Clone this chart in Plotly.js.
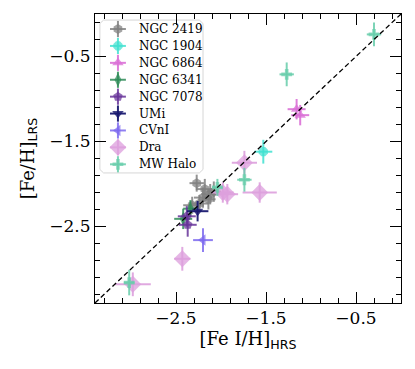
<!DOCTYPE html>
<html>
<head>
<meta charset="utf-8">
<script src="https://cdn.plot.ly/plotly-3.0.1.min.js"></script>
<style>
  html, body { margin: 0; padding: 0; background: #ffffff; }
  #chart { width: 415px; height: 369px; }
</style>
</head>
<body>
<div id="chart"></div>
<script>
//--------------------------------------- data - start -----------------------------------------------
var ngc2419_x = [-2.27, -2.18, -2.12, -2.08, -2.20, -2.24, -2.32, -2.14];
var ngc2419_y = [-1.99, -2.06, -2.12, -2.09, -2.16, -2.23, -2.25, -2.18];
var ngc2419_xe = [0.08, 0.10, 0.10, 0.08, 0.10, 0.10, 0.10, 0.08];
var ngc2419_ye = [0.10, 0.12, 0.12, 0.12, 0.12, 0.10, 0.10, 0.12];

var ngc1904_x = [-1.53];
var ngc1904_y = [-1.62];
var ngc1904_xe = [0.10];
var ngc1904_ye = [0.14];

var ngc6864_x = [-1.16, -1.12];
var ngc6864_y = [-1.12, -1.19];
var ngc6864_xe = [0.10, 0.10];
var ngc6864_ye = [0.12, 0.12];

var ngc6341_x = [-2.34, -2.42];
var ngc6341_y = [-2.29, -2.41];
var ngc6341_xe = [0.08, 0.10];
var ngc6341_ye = [0.10, 0.12];

var ngc7078_x = [-2.38, -2.37];
var ngc7078_y = [-2.38, -2.48];
var ngc7078_xe = [0.10, 0.10];
var ngc7078_ye = [0.12, 0.14];

var umi_x = [-2.26];
var umi_y = [-2.32];
var umi_xe = [0.12];
var umi_ye = [0.12];

var cvni_x = [-2.20];
var cvni_y = [-2.66];
var cvni_xe = [0.11];
var cvni_ye = [0.14];

var dra_x = [-2.98, -2.43, -1.98, -1.93, -1.57, -1.74];
var dra_y = [-3.18, -2.88, -2.10, -2.12, -2.10, -1.75];
var dra_xe = [0.20, 0.09, 0.12, 0.12, 0.19, 0.14];
var dra_ye = [0.14, 0.14, 0.12, 0.12, 0.12, 0.14];

var halo_x = [-0.30, -1.27, -1.74, -2.04, -3.02];
var halo_y = [-0.24, -0.71, -1.95, -2.04, -3.16];
var halo_xe = [0.08, 0.08, 0.08, 0.06, 0.06];
var halo_ye = [0.14, 0.14, 0.14, 0.10, 0.15];

var one_to_one = [-3.4, 0.0];
//--------------------------------------- data - end -------------------------------------------------

var serif = "DejaVu Serif, serif";

// grupos: nombre, datos, color, símbolo, tamaño
var grupos = [
  ['NGC 2419', ngc2419_x, ngc2419_y, ngc2419_xe, ngc2419_ye, 'rgba(128,128,128,0.85)', 'hexagon', 10],
  ['NGC 1904', ngc1904_x, ngc1904_y, ngc1904_xe, ngc1904_ye, 'rgba(64,224,208,0.85)', 'octagon', 10],
  ['NGC 6864', ngc6864_x, ngc6864_y, ngc6864_xe, ngc6864_ye, 'rgba(218,112,214,0.9)', 'triangle-up', 10],
  ['NGC 6341', ngc6341_x, ngc6341_y, ngc6341_xe, ngc6341_ye, 'rgba(46,139,87,0.85)', 'diamond-tall', 10],
  ['NGC 7078', ngc7078_x, ngc7078_y, ngc7078_xe, ngc7078_ye, 'rgba(102,51,153,0.85)', 'pentagon', 10],
  ['UMi', umi_x, umi_y, umi_xe, umi_ye, 'rgba(25,25,112,0.95)', 'triangle-down', 10],
  ['CVnI', cvni_x, cvni_y, cvni_xe, cvni_ye, 'rgba(123,104,238,0.85)', 'triangle-left', 10],
  ['Dra', dra_x, dra_y, dra_xe, dra_ye, 'rgba(221,160,221,0.9)', 'diamond', 13],
  ['MW Halo', halo_x, halo_y, halo_xe, halo_ye, 'rgba(102,205,170,0.85)', 'cross', 9]
];

function grupo(g, xref, yref) {
  return {
    x: g[1], y: g[2],
    xaxis: xref, yaxis: yref,
    type: 'scatter',
    mode: 'markers',
    name: g[0],
    showlegend: false,
    hoverinfo: 'skip',
    marker: { symbol: g[6], size: g[7], color: g[5], opacity: 0.85, line: { width: 0 } },
    error_x: { type: 'data', array: g[3], visible: true, color: g[5], thickness: 2, width: 0 },
    error_y: { type: 'data', array: g[4], visible: true, color: g[5], thickness: 2, width: 0 }
  };
}

var data = grupos.map(function (g) { return grupo(g, 'x', 'y'); });

// línea 1:1
data.push({
  x: one_to_one,
  y: one_to_one,
  type: 'scatter',
  mode: 'lines',
  showlegend: false,
  hoverinfo: 'skip',
  line: { color: '#000000', width: 1.3, dash: '5px,3px' }
});

//--------------------------------------- leyenda (estilo matplotlib) -----------------------------------------------
var leg_x0 = 0.016, leg_x1 = 0.353, leg_y0 = 0.45, leg_y1 = 0.979, r = 0.012;
var key_x = 0.075, text_x = 0.138, key_top = 0.948, key_step = 0.0585;

data.push({
  x: [leg_x0 + r, leg_x1 - r, leg_x1, leg_x1, leg_x1 - r, leg_x0 + r, leg_x0, leg_x0, leg_x0 + r],
  y: [leg_y1, leg_y1, leg_y1 - r, leg_y0 + r, leg_y0, leg_y0, leg_y0 + r, leg_y1 - r, leg_y1],
  xaxis: 'x2', yaxis: 'y2',
  type: 'scatter', mode: 'lines', fill: 'toself',
  fillcolor: 'rgba(255,255,255,0.8)',
  line: { color: '#d6d6d6', width: 1 },
  showlegend: false, hoverinfo: 'skip'
});

var anotaciones = [];
grupos.forEach(function (g, i) {
  var yk = key_top - i * key_step;
  data.push({
    x: [key_x], y: [yk],
    xaxis: 'x2', yaxis: 'y2',
    type: 'scatter', mode: 'markers',
    showlegend: false, hoverinfo: 'skip',
    marker: { symbol: g[6], size: g[7], color: g[5], opacity: 0.85, line: { width: 0 } },
    error_x: { type: 'constant', value: 0.026, visible: true, color: g[5], thickness: 2, width: 0 },
    error_y: { type: 'constant', value: 0.028, visible: true, color: g[5], thickness: 2, width: 0 }
  });
  anotaciones.push({
    x: text_x, y: yk, xref: 'x2', yref: 'y2',
    text: g[0], showarrow: false,
    xanchor: 'left', yanchor: 'middle',
    font: { family: serif, size: 12, color: '#000000' }
  });
});

var eje = {
  range: [-3.4, 0.0],
  tick0: -2.5,
  dtick: 1,
  ticks: 'inside',
  ticklen: 11,
  tickwidth: 1,
  tickcolor: '#000000',
  minor: { tick0: -2.5, dtick: 0.2, ticks: 'inside', ticklen: 5, tickwidth: 1, tickcolor: '#000000' },
  showline: true,
  linecolor: '#000000',
  linewidth: 1,
  mirror: 'allticks',
  showgrid: false,
  zeroline: false,
  tickfont: { family: serif, size: 17, color: '#000000' }
};

var layout = {
  width: 415,
  height: 369,
  margin: { t: 14, r: 14, l: 95, b: 66 },
  paper_bgcolor: '#ffffff',
  plot_bgcolor: '#ffffff',
  showlegend: false,
  xaxis: Object.assign({}, eje, {
    title: {
      text: '[Fe I/H]<sub><span style="font-family:DejaVu Sans">HRS</span></sub>',
      font: { family: serif, size: 18, color: '#000000' },
      standoff: 4
    }
  }),
  yaxis: Object.assign({}, eje, {
    title: {
      text: '[Fe/H]<sub><span style="font-family:DejaVu Sans">LRS</span></sub>',
      font: { family: serif, size: 18, color: '#000000' },
      standoff: 10
    }
  }),
  xaxis2: { overlaying: 'x', range: [0, 1], visible: false, fixedrange: true },
  yaxis2: { overlaying: 'y', range: [0, 1], visible: false, fixedrange: true },
  annotations: anotaciones
};

Plotly.newPlot('chart', data, layout, { displayModeBar: false, displaylogo: false });
</script>
</body>
</html>
